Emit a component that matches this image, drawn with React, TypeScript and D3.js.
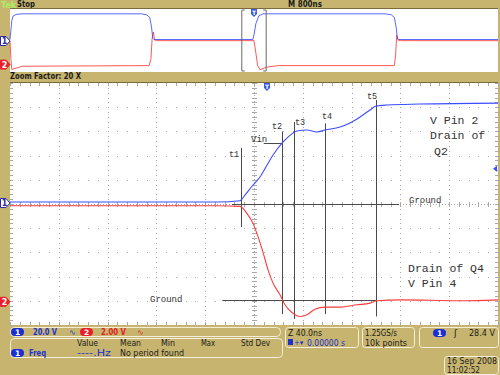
import React from "react";
import * as d3 from "d3";

// ---------- data ----------
// Zoomed window (time in ns, volts)
const blueMainT = [-200, -100, -30, -11.5, -7.4, -0.8, 4.9, 10.7, 15.6, 23.0, 27.9, 35.2, 43.4, 51.6, 58.2, 70.5, 78.7, 86.9, 95.1, 100, 109, 136, 200];
const blueMainV = [0.8, 0.8, 0.8, 1.9, 6.6, 14.9, 21.5, 31.4, 39.7, 49.6, 54.5, 59.5, 60.3, 58.7, 60.3, 62.8, 66.1, 71.1, 76.9, 80.2, 81.0, 81.8, 82.6];
const redMainT = [-200, -100, -30, -11.5, -6.0, -0.8, 3.3, 7.4, 11.5, 15.6, 21.3, 25.4, 31.1, 37.7, 43.4, 50.0, 58.2, 70.5, 84.4, 95.1, 100.8, 119.7, 168.9, 200];
const redMainV = [7.85, 7.85, 7.85, 7.8, 7.25, 6.4, 5.3, 4.0, 2.56, 1.46, 0.5, -0.33, -0.97, -1.3, -1.16, -0.69, -0.52, -0.52, -0.33, -0.19, 0.0, 0.08, 0.0, 0.08];

// Overview (time in µs, volts)
const blueOvT = [-4.0, -3.985, -3.97, -3.95, -3.9, -3.8, -1.85, -1.76, -1.71, -1.68, -1.66, -1.64, -0.02, 0.0, 0.03, 0.08, 0.15, 2.15, 2.25, 2.3, 2.33, 2.35, 2.37, 4.0];
const blueOvV = [0.8, 30, 60, 74, 79, 81, 81, 78, 70, 40, 5, 0.8, 0.8, 15, 50, 75, 81, 81, 78, 70, 40, 5, 0.8, 0.8];
const redOvT = [-4.0, -3.985, -3.97, -3.9, -3.8, -1.72, -1.69, -1.67, -1.65, -1.63, -1.6, 0.0, 0.03, 0.06, 0.1, 0.2, 0.4, 2.3, 2.32, 2.34, 2.36, 2.4, 4.0];
const redOvV = [7.8, 2, -1.2, -0.8, -0.2, 0, 2, 8.5, 10.5, 8.0, 7.8, 7.8, 4, 0, -1.3, -0.5, 0, 0, 3, 9.5, 8.0, 7.8, 7.8];

// cursor annotations (ns) and their top / bottom extents (divisions)
const cursorLabels = ["t1", "t2", "t3", "t4", "t5"];
const cursorTimes = [-10.8, 23.0, 32.8, 58.2, 100.0];
const cursorTop = [2.32, 3.0, 3.39, 3.33, 4.3];
const cursorBottom = [-0.95, -4.55, -4.75, -4.55, -4.65];

// channel settings
const ch1VoltsPerDiv = 20;
const ch2VoltsPerDiv = 2;
const ch1Pos = 0.04;
const ch2Pos = -4.0;
const triggerLevel = 28.4;

const measHeaders = ["Value", "Mean", "Min", "Max", "Std Dev"];

// ---------- layout ----------
const W = 500, H = 375;
const PL = 10, PR = 498;
const MT = 83, MB = 325;
const OT = 8, OB = 72;

const TAN = "#c7b56f";
const BLUE = "#3b4cff";
const RED = "#ff3b3b";
const GRID = "#a8a8a8";
const INK = "#4a4a4a";

const xMain = d3.scaleLinear().domain([-200, 200]).range([PL, PR]);
const yMain = d3.scaleLinear().domain([-5, 5]).range([MB, MT]);
const xOv = d3.scaleLinear().domain([-4, 4]).range([PL, PR]);
const yOv = d3.scaleLinear().domain([-5, 5]).range([OB, OT]);

const toDiv = (v: number, vpd: number, pos: number) => v / vpd + pos;

const ui = "DejaVu Sans, Liberation Sans, sans-serif";
const mono = "Liberation Mono, DejaVu Sans Mono, monospace";

function T({ x, y, w, children, fill = "#1a1a1a", bold = false, size = 8.5 }: any) {
  return (
    <text x={x} y={y} textLength={w} lengthAdjust="spacingAndGlyphs" fontSize={size} fontWeight={bold ? "bold" : "normal"} fill={fill} fontFamily={ui}>{children}</text>
  );
}

function ChMarker({ y, n, color, filled }: { y: number; n: string; color: string; filled: boolean }) {
  const p = `M0.5,${y - 4.5} H6 L10,${y} L6,${y + 4.5} H0.5 Z`;
  return (
    <g>
      <path d={p} fill={filled ? color : "#fff"} stroke={filled ? color : "#2a2aa0"} strokeWidth={1} />
      <text x={4.5} y={y + 3} fontSize={8} fontWeight="bold" textAnchor="middle" fill={filled ? "#fff" : "#2a2aa0"} fontFamily="DejaVu Sans">{n}</text>
    </g>
  );
}

function Pill({ x, y, n, color }: { x: number; y: number; n: string; color: string }) {
  return (
    <g>
      <rect x={x} y={y} width={13} height={8} rx={4} fill={color} />
      <text x={x + 6.5} y={y + 7} fontSize={7.5} fontWeight="bold" textAnchor="middle" fill="#fff" fontFamily="DejaVu Sans">{n}</text>
    </g>
  );
}

export default function App() {
  const lineMain = d3.line<[number, number]>().x(d => xMain(d[0])).y(d => yMain(d[1])).curve(d3.curveMonotoneX);
  const lineOv = d3.line<[number, number]>().x(d => xOv(d[0])).y(d => yOv(d[1]));

  const blueMain = blueMainT.map((t, i) => [t, toDiv(blueMainV[i], ch1VoltsPerDiv, ch1Pos)] as [number, number]);
  const redMain = redMainT.map((t, i) => [t, toDiv(redMainV[i], ch2VoltsPerDiv, ch2Pos)] as [number, number]);
  const blueOv = blueOvT.map((t, i) => [t, toDiv(blueOvV[i], ch1VoltsPerDiv, ch1Pos)] as [number, number]);
  const redOv = redOvT.map((t, i) => [t, toDiv(redOvV[i], ch2VoltsPerDiv, ch2Pos)] as [number, number]);

  // grid
  const xDivs = d3.range(-200, 201, 40);
  const yDivs = d3.range(-5, 6, 1);
  const xMinor = d3.range(-200, 201, 8);
  const yMinor = d3.range(-5, 5.01, 0.2);
  const gridDots: any[] = [];
  xDivs.forEach((t, i) => {
    if (t === 0 || t === -200 || t === 200) return;
    yMinor.forEach((v, j) => gridDots.push(<rect key={`gv${i}-${j}`} x={Math.round(xMain(t))} y={Math.round(yMain(v))} width={1} height={1} fill={GRID} />));
  });
  yDivs.forEach((v, i) => {
    if (v === 0 || v === -5 || v === 5) return;
    xMinor.forEach((t, j) => gridDots.push(<rect key={`gh${i}-${j}`} x={Math.round(xMain(t))} y={Math.round(yMain(v))} width={1} height={1} fill={GRID} />));
  });
  const cx = Math.round(xMain(0)), cy = Math.round(yMain(0));
  const ticks: any[] = [];
  yMinor.forEach((v, j) => ticks.push(<line key={`tc${j}`} x1={cx - 2} x2={cx + 3} y1={Math.round(yMain(v)) + 0.5} y2={Math.round(yMain(v)) + 0.5} stroke={GRID} />));
  xMinor.forEach((t, j) => ticks.push(<line key={`th${j}`} y1={cy - 2} y2={cy + 3} x1={Math.round(xMain(t)) + 0.5} x2={Math.round(xMain(t)) + 0.5} stroke={GRID} />));
  xMinor.forEach((t, j) => {
    ticks.push(<line key={`tt${j}`} y1={MT} y2={MT + 3} x1={Math.round(xMain(t)) + 0.5} x2={Math.round(xMain(t)) + 0.5} stroke={GRID} />);
    ticks.push(<line key={`tb${j}`} y1={MB - 3} y2={MB} x1={Math.round(xMain(t)) + 0.5} x2={Math.round(xMain(t)) + 0.5} stroke={GRID} />);
  });
  yMinor.forEach((v, j) => {
    ticks.push(<line key={`tl${j}`} x1={PL} x2={PL + 3} y1={Math.round(yMain(v)) + 0.5} y2={Math.round(yMain(v)) + 0.5} stroke={GRID} />);
    ticks.push(<line key={`tr${j}`} x1={PR - 3} x2={PR} y1={Math.round(yMain(v)) + 0.5} y2={Math.round(yMain(v)) + 0.5} stroke={GRID} />);
  });

  const ch1GroundY = yMain(ch1Pos);
  const ch2GroundY = yMain(ch2Pos);
  const trigY = yMain(toDiv(triggerLevel, ch1VoltsPerDiv, ch1Pos));
  const labelDx = [-12, -10, 1, -3, -9];
  const labelDy = [9, -2, 3, -4, -1];

  return (
    <svg width={W} height={H} style={{ position: "absolute", left: 0, top: 0, display: "block" }}>
      <rect x={0} y={0} width={W} height={H} fill={TAN} />
      {/* top bar */}
      <text x={1} y={7.5} fontSize={8} fontWeight="bold" fill="#a6f25e" fontFamily={ui}>Tek</text>
      <T x={17} y={7} w={18} bold>Stop</T>
      <T x={288} y={7} w={34} bold>M 800ns</T>

      {/* overview */}
      <rect x={PL} y={OT + 1} width={PR - PL} height={OB - OT - 1} fill="#fff" />
      <line x1={PL} x2={PR} y1={OT + 0.5} y2={OT + 0.5} stroke="#7a6c3a" />
      <path d={lineOv(redOv) || ""} fill="none" stroke={RED} strokeWidth={1} strokeOpacity={0.85} />
      <path d={lineOv(blueOv) || ""} fill="none" stroke={BLUE} strokeWidth={1} strokeOpacity={0.85} />
      {/* zoom bracket */}
      <path d={`M${xOv(-0.2) + 3},${OT + 2} H${xOv(-0.2)} V${OB - 1} H${xOv(-0.2) + 3}`} fill="none" stroke="#6a6a6a" />
      <path d={`M${xOv(0.2) - 3},${OT + 2} H${xOv(0.2)} V${OB - 1} H${xOv(0.2) - 3}`} fill="none" stroke="#6a6a6a" />
      <g transform={`translate(${xOv(0)},${OT + 1})`}>
        <path d="M-3,0 H3 V5 L0,8 L-3,5 Z" fill="#3b5bd8" />
        <text x={0} y={6} fontSize={6} fontWeight="bold" textAnchor="middle" fill="#fff" fontFamily={ui}>T</text>
      </g>
      <ChMarker y={OT + (OB - OT) / 2 + 1} n="1" color={BLUE} filled={false} />
      <ChMarker y={yOv(ch2Pos) - 1} n="2" color="#e8202a" filled={true} />

      {/* zoom factor bar */}
      <T x={10} y={79} w={71} bold>Zoom Factor: 20 X</T>

      {/* main plot */}
      <rect x={PL} y={MT} width={PR - PL} height={MB - MT} fill="#fff" />
      <line x1={PL} x2={PR} y1={MT - 0.5} y2={MT - 0.5} stroke="#7a6c3a" />
      {gridDots}
      {ticks}
      <line x1={cx + 0.5} x2={cx + 0.5} y1={MT} y2={MB} stroke={GRID} strokeDasharray="1,2" />
      <line x1={PL} x2={PR} y1={cy + 0.5} y2={cy + 0.5} stroke={GRID} strokeDasharray="1,2" />

      {/* ground reference lines */}
      <line x1={232} x2={xMain(119)} y1={cy + 0.5} y2={cy + 0.5} stroke={INK} />
      <line x1={xMain(-26)} x2={xMain(100.5)} y1={Math.round(ch2GroundY) - 0.5} y2={Math.round(ch2GroundY) - 0.5} stroke={INK} />
      {/* Vin line */}
      <line x1={xMain(8)} x2={xMain(23)} y1={143.5} y2={143.5} stroke={INK} />

      {/* cursors */}
      {cursorTimes.map((t, i) => (
        <line key={`c${i}`} x1={Math.round(xMain(t)) + 0.5} x2={Math.round(xMain(t)) + 0.5} y1={yMain(cursorTop[i])} y2={yMain(cursorBottom[i])} stroke={INK} />
      ))}

      {/* traces */}
      <path d={lineMain(redMain) || ""} fill="none" stroke={RED} strokeWidth={1.1} />
      <path d={lineMain(blueMain) || ""} fill="none" stroke={BLUE} strokeWidth={1.1} />

      {/* labels */}
      {cursorTimes.map((t, i) => (
        <text key={`cl${i}`} x={Math.round(xMain(t)) + labelDx[i]} y={yMain(cursorTop[i]) + labelDy[i]} fontSize={8.5} fill="#333" fontFamily={mono}>{cursorLabels[i]}</text>
      ))}
      <text x={251} y={142} fontSize={9} fill="#333" fontFamily={mono}>Vin</text>
      <text x={409} y={203} fontSize={9} fill="#333" fontFamily={mono}>Ground</text>
      <text x={150} y={302} fontSize={9} fill="#333" fontFamily={mono}>Ground</text>
      <text x={430} y={124} fontSize={11.5} fill="#333" fontFamily={mono}>V Pin 2</text>
      <text x={430} y={139} fontSize={11.5} fill="#333" fontFamily={mono}>Drain of</text>
      <text x={434} y={155} fontSize={11.5} fill="#333" fontFamily={mono}>Q2</text>
      <text x={408} y={272} fontSize={11.5} fill="#333" fontFamily={mono}>Drain of Q4</text>
      <text x={408} y={287} fontSize={11.5} fill="#333" fontFamily={mono}>V Pin 4</text>

      {/* trigger markers */}
      <g transform={`translate(267,${MT})`}>
        <path d="M-3,0 H3 V5 L0,8 L-3,5 Z" fill="#3b5bd8" />
        <text x={0} y={6} fontSize={6} fontWeight="bold" textAnchor="middle" fill="#fff" fontFamily={ui}>T</text>
      </g>
      <path d={`M${PR - 5},${trigY} L${PR - 1},${trigY - 3} V${trigY + 3} Z`} fill={BLUE} />
      <ChMarker y={ch1GroundY} n="1" color={BLUE} filled={false} />
      <ChMarker y={ch2GroundY + 1} n="2" color="#e8202a" filled={true} />

      {/* bottom readouts */}
      <rect x={10.5} y={327.5} width={270} height={9} rx={4} fill="none" stroke="#f4efdc" />
      <Pill x={11} y={328} n="1" color="#1c2fd0" />
      <T x={33} y={335} w={24} fill="#2030d0" bold>20.0 V</T>
      <text x={69} y={335} fontSize={8} fill="#2030d0" fontFamily={ui}>∿</text>
      <Pill x={80} y={328} n="2" color="#e8202a" />
      <T x={101} y={335} w={25} fill="#e02020" bold>2.00 V</T>
      <text x={137} y={335} fontSize={8} fill="#e02020" fontFamily={ui}>∿</text>

      <rect x={10.5} y={338.5} width={272} height={19} rx={4} fill="none" stroke="#f4efdc" />
      {measHeaders.map((h, i) => (
        <T key={h} x={[77, 120, 161, 201, 241][i]} y={346} w={[21, 21, 14, 14, 29][i]}>{h}</T>
      ))}
      <Pill x={11} y={349} n="1" color="#1c2fd0" />
      <T x={29} y={356} w={17} fill="#2030d0" bold>Freq</T>
      <T x={77} y={356} w={34} fill="#2030d0">----.Hz</T>
      <T x={120} y={356} w={64}>No period found</T>

      <rect x={285.5} y={327.5} width={73} height={20} rx={3} fill="none" stroke="#f4efdc" />
      <T x={288} y={335.5} w={34}>Z 40.0ns</T>
      <rect x={288} y={339} width={5} height={6} fill="#2030d0" />
      <text x={294} y={345} fontSize={7} fill="#2030d0" fontFamily={ui}>+▾</text>
      <T x={307} y={345.5} w={38} fill="#2030d0">0.00000 s</T>

      <rect x={362.5} y={327.5} width={52} height={20} rx={3} fill="none" stroke="#f4efdc" />
      <T x={365} y={335.5} w={32}>1.25GS/s</T>
      <T x={365} y={345.5} w={42}>10k points</T>

      <rect x={419.5} y={327.5} width={79} height={20} rx={3} fill="none" stroke="#f4efdc" />
      <Pill x={433} y={329} n="1" color="#1c2fd0" />
      <text x={454} y={336} fontSize={9} fill="#1a1a1a" fontFamily={ui}>ʃ</text>
      <T x={469} y={335.5} w={26}>28.4 V</T>

      <rect x={444.5} y={356.5} width={54} height={18} rx={3} fill="none" stroke="#f4efdc" />
      <T x={447} y={364} w={50}>16 Sep  2008</T>
      <T x={447} y={373} w={33}>11:02:52</T>
    </svg>
  );
}
